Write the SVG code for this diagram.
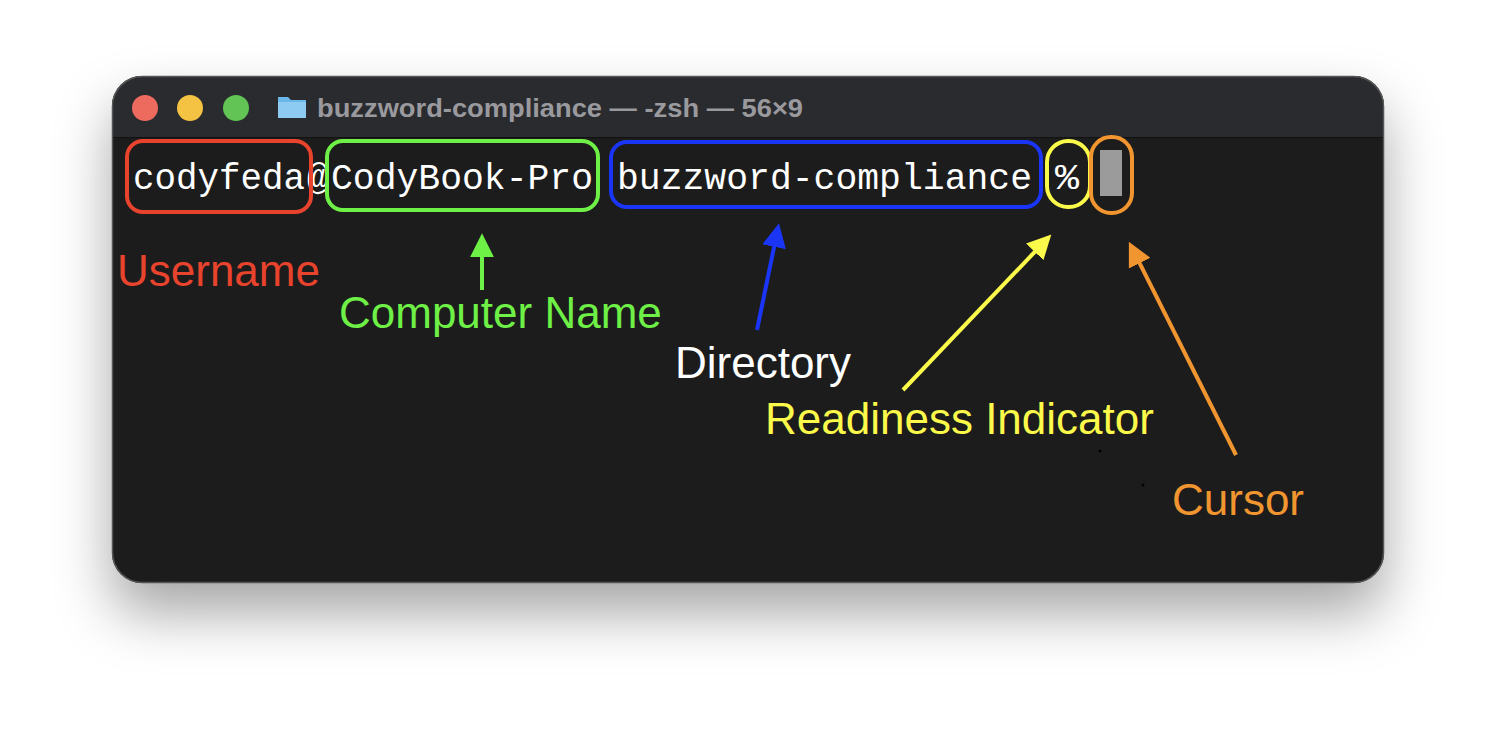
<svg xmlns="http://www.w3.org/2000/svg" width="1496" height="732" viewBox="0 0 1496 732">
<defs>
<filter id="sh" x="-20%" y="-20%" width="140%" height="160%"><feDropShadow dx="0" dy="30" stdDeviation="28" flood-color="#000" flood-opacity="0.35"/></filter>
<clipPath id="win"><rect x="112" y="76" width="1272" height="507" rx="30"/></clipPath>
<marker id="ah" viewBox="0 0 10 10" refX="8" refY="5" markerWidth="6" markerHeight="6" orient="auto-start-reverse" markerUnits="strokeWidth"><path d="M0,0 L10,5 L0,10 z" fill="context-stroke"/></marker>
</defs>
<style>
.mono{font-family:"Liberation Mono","DejaVu Sans Mono",monospace;font-size:36px;fill:#fff}
.lbl{font-family:"Liberation Sans","Helvetica",Arial,sans-serif;font-size:44px}
.box{fill:none;stroke-width:4}
.arr{stroke-width:4;fill:none;marker-end:url(#ah)}
</style>
<rect width="1496" height="732" fill="#fff"/>
<g id="window">
<rect x="112" y="76" width="1272" height="507" rx="30" fill="#1e1e1e" filter="url(#sh)"/>
<g clip-path="url(#win)">
<rect x="112" y="76" width="1272" height="62" fill="#2a2b2f"/>
<rect x="112" y="137" width="1272" height="1" fill="#111"/>
</g>
<rect x="112.5" y="76.5" width="1271" height="506" rx="30" fill="none" stroke="#555" stroke-width="1.5"/>
<circle cx="145" cy="108" r="13" fill="#ed6a5e"/>
<circle cx="190" cy="108" r="13" fill="#f5c343"/>
<circle cx="236" cy="108" r="13" fill="#61c454"/>
<path d="M278,97 h10 l3,3 h15 v18 h-28 z" fill="#6cb7ea"/>
<rect x="278" y="102" width="28" height="16" fill="#8ecbf3"/>
<text x="317" y="117" font-family="Liberation Sans,Arial,sans-serif" font-weight="bold" font-size="25" fill="#9a9a9e" textLength="486" lengthAdjust="spacingAndGlyphs">buzzword-compliance — -zsh — 56×9</text>
</g>
<g id="prompt">
<text class="mono" x="133" y="189" textLength="172" lengthAdjust="spacingAndGlyphs">codyfeda</text>
<text class="mono" x="307" y="189" textLength="22" lengthAdjust="spacingAndGlyphs">@</text>
<text class="mono" x="331" y="189" textLength="262" lengthAdjust="spacingAndGlyphs">CodyBook-Pro</text>
<text class="mono" x="617" y="189" textLength="415" lengthAdjust="spacingAndGlyphs">buzzword-compliance</text>
<text class="mono" x="1055" y="189" textLength="24" lengthAdjust="spacingAndGlyphs">%</text>
<rect x="1100" y="150" width="22" height="46" fill="#9b9b9b"/>
</g>
<g id="boxes">
<rect class="box" x="127" y="141" width="184" height="71" rx="16" stroke="#e8432d"/>
<rect class="box" x="327" y="141" width="271" height="69" rx="16" stroke="#6ef046"/>
<rect class="box" x="611" y="142" width="430" height="65" rx="16" stroke="#1a35f5"/>
<rect class="box" x="1047" y="141" width="43" height="66" rx="21" stroke="#fbf94a"/>
<rect class="box" x="1091" y="137" width="41" height="76" rx="20" stroke="#f0952f"/>
</g>
<g id="connectors">
<line class="arr" x1="482" y1="290" x2="482" y2="238" stroke="#6ef046"/>
<line class="arr" x1="757" y1="330" x2="778" y2="228" stroke="#1a35f5"/>
<line class="arr" x1="903" y1="390" x2="1048" y2="238" stroke="#fbf94a"/>
<line class="arr" x1="1236" y1="455" x2="1131" y2="246" stroke="#f0952f"/>
</g>
<g id="labels">
<text class="lbl" x="117" y="286" fill="#e8432d">Username</text>
<text class="lbl" x="339" y="328" fill="#6ef046">Computer Name</text>
<text class="lbl" x="675" y="378" fill="#fff">Directory</text>
<text class="lbl" x="765" y="434" fill="#fbf94a">Readiness Indicator</text>
<text class="lbl" x="1172" y="515" fill="#f0952f">Cursor</text>
</g>
<circle cx="1100" cy="451" r="1.5" fill="#000"/>
<circle cx="1143" cy="485" r="1.5" fill="#000"/>
</svg>
